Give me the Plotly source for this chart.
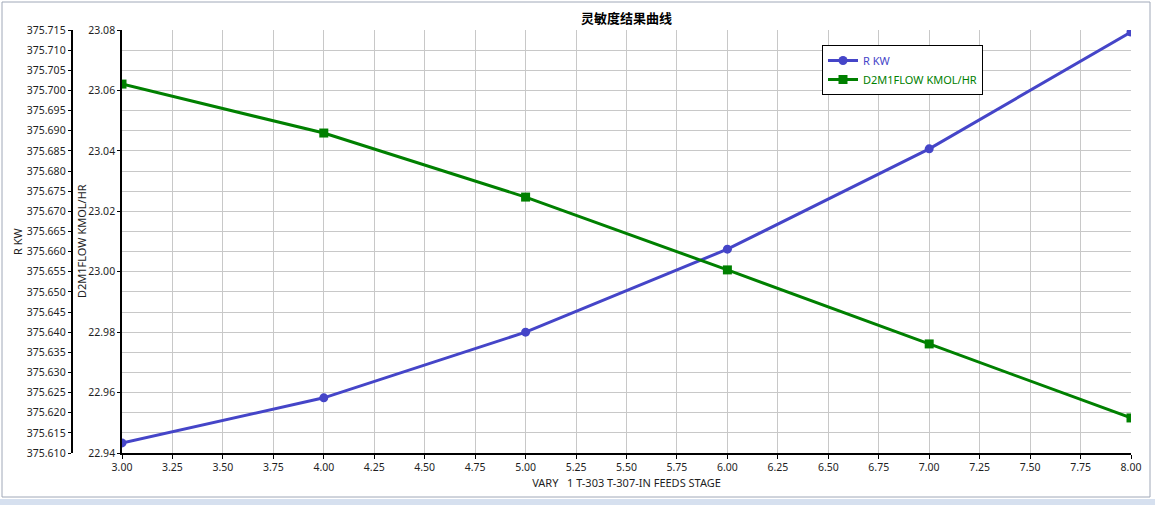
import plotly.graph_objects as go

stages = [3, 4, 5, 6, 7, 8]
r_kw = [375.6125, 375.6237, 375.6400, 375.6606, 375.6855, 375.7145]
d2m1flow = [23.0621, 23.0459, 23.0247, 23.0006, 22.9761, 22.9516]

title_text = "灵敏度结果曲线"
x_title = "VARY   1 T-303 T-307-IN FEEDS STAGE"
y1_title = "R KW"
y2_title = "D2M1FLOW KMOL/HR"

BLUE = "#4545C8"
GREEN = "#008000"
FONT = "Noto Sans"
TXT = "#1e1e1e"

W, H = 1155, 505
ML, MR, MT, MB = 10, 10, 30, 52
PW = W - ML - MR
PH = H - MT - MB

def px_x(p):
    return (p - ML) / PW

def px_y(p):
    return (H - MB - p) / PH

fig = go.Figure()
fig.add_trace(go.Scatter(
    x=stages, y=r_kw, yaxis="y", mode="lines+markers",
    name=f"<span style='color:{BLUE}'>R KW</span>",
    line=dict(color=BLUE, width=3),
    marker=dict(symbol="circle", size=9, color=BLUE),
))
fig.add_trace(go.Scatter(
    x=stages, y=d2m1flow, yaxis="y2", mode="lines+markers",
    name=f"<span style='color:{GREEN}'>D2M1FLOW KMOL/HR</span>",
    line=dict(color=GREEN, width=3),
    marker=dict(symbol="square", size=9, color=GREEN),
))

tickfont = dict(family=FONT, size=10.5, color=TXT)

fig.update_layout(
    width=W, height=H,
    margin=dict(l=ML, r=MR, t=MT, b=MB, autoexpand=False),
    paper_bgcolor="white", plot_bgcolor="white",
    font=dict(family=FONT, size=11, color=TXT),
    title=dict(text=f"<b>{title_text}</b>", x=626.5 / W, xref="container",
               y=1 - 18 / H, yref="container", xanchor="center", yanchor="middle",
               font=dict(family="Noto Sans CJK SC", size=13, color="#000")),
    showlegend=True,
    legend=dict(x=px_x(822), y=px_y(45), xanchor="left", yanchor="top",
                bordercolor="#000", borderwidth=1, bgcolor="white",
                font=dict(family=FONT, size=11), itemwidth=30,
                tracegroupgap=0),
    xaxis=dict(
        domain=[px_x(122), px_x(1131)], range=[3, 8], dtick=0.25, tick0=3,
        tickformat=".2f", showgrid=True, gridcolor="#c8c8c8", gridwidth=1,
        showline=True, linecolor="#000", linewidth=1.5,
        ticks="outside", ticklen=4, tickcolor="#000",
        tickfont=tickfont, zeroline=False, automargin=False,
        title=dict(text=x_title, font=dict(family=FONT, size=11, color=TXT), standoff=6),
    ),
    yaxis=dict(
        anchor="free", position=px_x(71.5), side="left",
        range=[375.610, 375.715], dtick=0.005, tick0=375.610, tickformat=".3f",
        showgrid=True, gridcolor="#c8c8c8", gridwidth=1,
        showline=True, linecolor="#000", linewidth=1.5,
        ticks="outside", ticklen=3, tickcolor="#000",
        tickfont=tickfont, zeroline=False, automargin=False,
    ),
    yaxis2=dict(
        anchor="x", overlaying="y", side="left",
        range=[22.94, 23.08], dtick=0.02, tick0=22.94, tickformat=".2f",
        showgrid=False,
        showline=True, linecolor="#000", linewidth=1.5,
        ticks="outside", ticklen=3, tickcolor="#000",
        tickfont=tickfont, zeroline=False, automargin=False,
    ),
    annotations=[
        dict(text=y1_title, xref="paper", yref="paper", x=px_x(17), y=px_y(241),
             xanchor="center", yanchor="middle", textangle=-90, showarrow=False,
             font=dict(family=FONT, size=11, color=TXT)),
        dict(text=y2_title, xref="paper", yref="paper", x=px_x(81), y=px_y(241),
             xanchor="center", yanchor="middle", textangle=-90, showarrow=False,
             font=dict(family=FONT, size=11, color=TXT)),
    ],
    shapes=[
        dict(type="rect", xref="paper", yref="paper",
             x0=px_x(2), x1=px_x(1150), y0=px_y(497), y1=px_y(2),
             line=dict(color="#a0a8b8", width=1), fillcolor="rgba(0,0,0,0)", layer="below"),
        dict(type="rect", xref="paper", yref="paper",
             x0=px_x(0), x1=px_x(1155), y0=px_y(505), y1=px_y(499),
             line=dict(width=0), fillcolor="#d6e0ef", layer="below"),
    ],
)

fig.write_html("out.html", config={"displayModeBar": False},
               post_script="document.body.style.margin='0';")
